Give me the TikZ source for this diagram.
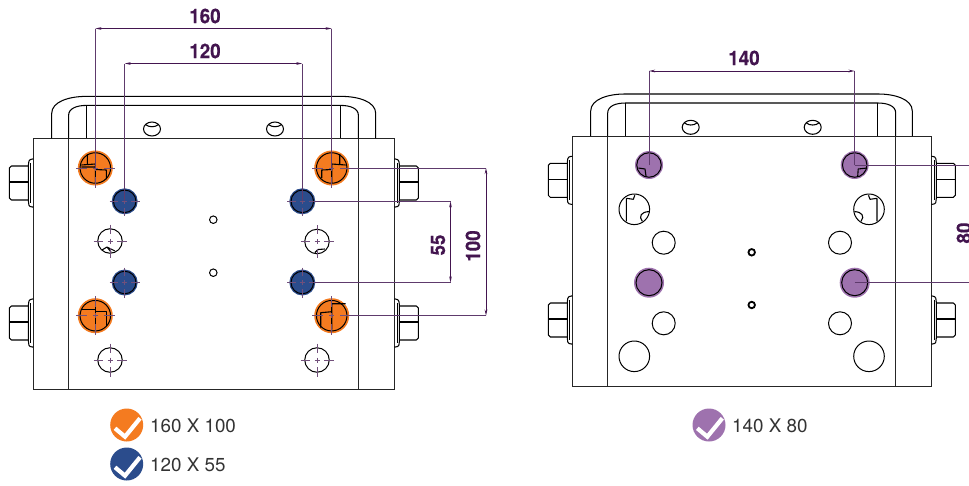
\documentclass[tikz,border=0pt]{standalone}
\usepackage{fontspec}
\usetikzlibrary{arrows.meta,calc}
\setmainfont{TeX Gyre Heros}
\newfontfamily\dimfont[FakeStretch=0.94,FakeBold=0.5]{TeX Gyre Heros}
\definecolor{cOrange}{HTML}{F47B20}
\definecolor{cBlue}{HTML}{2B4C8C}
\definecolor{cPurple}{HTML}{9E72AE}
\definecolor{cDim}{HTML}{43154F}
\definecolor{cExt}{HTML}{5E3A6C}
\definecolor{cInk}{HTML}{000000}
\definecolor{cText}{HTML}{333333}
\tikzset{
  ink/.style={draw=cInk,line width=1.05pt,line join=round},
  plateline/.style={draw=cInk!85!white,line width=0.95pt},
  detail/.style={draw=black,line width=1.1pt,line join=round},
  hole/.style={circle,draw=black,line width=1pt,inner sep=0pt,outer sep=0pt,minimum size=#1},
  halo/.style={circle,fill=#1,inner sep=0pt,outer sep=0pt},
  extline/.style={draw=cExt,line width=0.95pt},
  dimline/.style={draw=cDim,line width=1pt,{Stealth[length=6pt,width=2.6pt]}-{Stealth[length=6pt,width=2.6pt]}},
  hair/.style={draw=cDim!75!white,line width=0.85pt},
  dimtext/.style={font=\dimfont\bfseries\fontsize{20}{20}\selectfont,text=cDim,inner sep=0pt},
  legendtext/.style={font=\fontsize{18.8}{20}\selectfont,text=cText,anchor=west,inner sep=0pt},
  tick/.style={draw=white,line width=4.2pt,line join=miter}
}
% centre lines of a hole: x, y, reach
\newcommand{\hairs}[3]{%
  \draw[hair] ({#1-#3},#2) -- ({#1-0.45*#3},#2) ({#1-2.5},#2) -- ({#1+2.5},#2) ({#1+0.45*#3},#2) -- ({#1+#3},#2)
              (#1,{#2-#3}) -- (#1,{#2-0.45*#3}) (#1,{#2-2.5}) -- (#1,{#2+2.5}) (#1,{#2+0.45*#3}) -- (#1,{#2+#3});}
\newcommand{\boltL}[2]{%
  \begin{scope}[shift={(#1,#2)}]
    \draw[ink] (0,-24) -- (-1,-24) .. controls (-5,-24) and (-5,-20) .. (-5,-18) -- (-5,18) .. controls (-5,21) and (-5,24) .. (-1,24) -- (0,24);
    \draw[ink] (-3,-20) -- (-3,20);
    \draw[ink] (-5,-17) -- (-22,-17) -- (-24,-15) -- (-24,15) -- (-22,17) -- (-5,17);
    \draw[ink] (-24,-1) -- (-5,-1);
  \end{scope}}
\newcommand{\boltR}[2]{%
  \begin{scope}[shift={(#1,#2)},xscale=-1]
    \draw[ink] (0,-24) -- (-1,-24) .. controls (-5,-24) and (-5,-20) .. (-5,-18) -- (-5,18) .. controls (-5,21) and (-5,24) .. (-1,24) -- (0,24);
    \draw[ink] (-3,-20) -- (-3,20);
    \draw[ink] (-5,-17) -- (-22,-17) -- (-24,-15) -- (-24,15) -- (-22,17) -- (-5,17);
    \draw[ink] (-24,-1) -- (-5,-1);
  \end{scope}}
% plate: left, inner left, inner right, right, top, bottom, handle outer left, handle outer right
\newcommand{\plate}[8]{%
  \draw[plateline] (#1,#5) rectangle (#4,#6);
  \draw[plateline] (#2,#5) -- (#2,#6) (#3,#5) -- (#3,#6);
  \draw[ink] (#7,#5) -- (#7,{#5-25}) .. controls (#7,{#5-37}) and ({#7+18},{#5-42}) .. ({#7+34},{#5-42})
     -- ({#8-34},{#5-42}) .. controls ({#8-18},{#5-42}) and (#8,{#5-37}) .. (#8,{#5-25}) -- (#8,#5);
  \draw[ink] (#2,#5) -- (#2,{#5-23}) .. controls (#2,{#5-30}) and ({#2+8},{#5-33}) .. ({#2+18},{#5-33})
     -- ({#3-18},{#5-33}) .. controls ({#3-8},{#5-33}) and (#3,{#5-30}) .. (#3,{#5-23}) -- (#3,#5);
  \draw[ink] ({#2+18},{#5-33}) -- ({#2+18},#5) ({#3-18},{#5-33}) -- ({#3-18},#5);}
\newcommand{\slot}[2]{%
  \begin{scope}[shift={(#1,#2)}]
    \draw[ink] (0,0) ellipse [x radius=8.5,y radius=7];
    \draw[ink] (-6.5,-4.5) .. controls (-3,-1.5) and (3,-1.5) .. (6.5,-4.5);
  \end{scope}}
\begin{document}
\begin{tikzpicture}[x=1pt,y=-1pt]
\useasboundingbox (0,0) rectangle (969,485);
\clip (0,0) rectangle (969,485);

% ---------- left plate ----------
\plate{33.4}{68.6}{358.4}{394.4}{138.4}{389.6}{51.7}{375.7}
\slot{152}{129}
\slot{275}{129}
\boltL{33.4}{183}
\boltL{33.4}{323}
\boltR{394.4}{183}
\boltR{394.4}{323}

\node[halo=cOrange,minimum size=35pt] (ohaloA) at (95.3,168) {};
\node[halo=cOrange,minimum size=35pt] (ohaloB) at (331.7,168) {};
\node[halo=cOrange,minimum size=35pt] (ohaloC) at (95.3,315.7) {};
\node[halo=cOrange,minimum size=35pt] (ohaloD) at (331.7,315.7) {};
\node[hole=30.5pt] (oA) at (95.3,168) {};
\node[hole=30.5pt] (oB) at (331.7,168) {};
\node[hole=30.5pt] (oC) at (95.3,315.7) {};
\node[hole=30.5pt] (oD) at (331.7,315.7) {};
\node[halo=cBlue,minimum size=26pt] (bhaloA) at (124.7,201.3) {};
\node[halo=cBlue,minimum size=26pt] (bhaloB) at (302.3,201.3) {};
\node[halo=cBlue,minimum size=26pt] (bhaloC) at (124.7,282.5) {};
\node[halo=cBlue,minimum size=26pt] (bhaloD) at (302.3,282.5) {};
\node[hole=22.5pt] (bA) at (124.7,201.3) {};
\node[hole=22.5pt] (bB) at (302.3,201.3) {};
\node[hole=22.5pt] (bC) at (124.7,282.5) {};
\node[hole=22.5pt] (bD) at (302.3,282.5) {};
\node[hole=24.5pt] (wA) at (110,241) {};
\node[hole=24.5pt] (wB) at (317,241.5) {};
\node[hole=24.5pt] (wC) at (110,360) {};
\node[hole=24.5pt] (wD) at (317,360) {};
\node[hole=7.5pt] (sA) at (213.3,219.7) {};
\node[hole=7.5pt] (sB) at (213.3,272.7) {};

% cut-outs seen through the holes
\begin{scope}[shift={(95.3,168)}]
  \draw[detail] (-14,-3) -- (0,-4) -- (0,15) (-14,-1) -- (0,-1) (0,1.5) -- (11,2) -- (11,11) (-8,-14) -- (-8,-4);
\end{scope}
\begin{scope}[shift={(331.7,168)},xscale=-1]
  \draw[detail] (-14,-3) -- (0,-4) -- (0,15) (0,1.5) -- (10,2) -- (10,10) (-8,-14) -- (-8,-4);
\end{scope}
\begin{scope}[shift={(95.3,315.7)}]
  \draw[detail] (-14,-6) -- (0,-6) -- (0,-12) (0,-4) -- (11,-4) -- (11,10) (0,-6) -- (0,14);
\end{scope}
\begin{scope}[shift={(331.7,315.7)}]
  \draw[detail] (0,-12) -- (14,-12) (0,-12) -- (0,14) (0,-4) -- (-11,-3) -- (-11,12);
\end{scope}
\begin{scope}[shift={(110,241)}]
  \draw[detail] (-8,9) -- (-3,6) -- (5,10) (-3,6) -- (1,11);
\end{scope}
\begin{scope}[shift={(317,241.5)}]
  \draw[detail] (-2,11) -- (1,8) -- (8,7.5);
\end{scope}

\hairs{95.3}{168}{19.5}
\hairs{331.7}{168}{19.5}
\hairs{95.3}{315.7}{19.5}
\hairs{331.7}{315.7}{19.5}
\hairs{124.7}{201.3}{15}
\hairs{302.3}{201.3}{15}
\hairs{124.7}{282.5}{15}
\hairs{302.3}{282.5}{15}
\hairs{110}{241}{16.5}
\hairs{317}{241.5}{16.5}
\hairs{110}{360}{16.5}
\hairs{317}{360}{16.5}

% dimensions, left plate
\coordinate (t160a) at (95.3,28.5);
\coordinate (t160b) at (331.7,28.5);
\coordinate (t120a) at (124.7,63.5);
\coordinate (t120b) at (302.3,63.5);
\coordinate (r100a) at (486,168);
\coordinate (r100b) at (486,315.7);
\coordinate (r55a) at (450.5,201.3);
\coordinate (r55b) at (450.5,282.5);
\draw[extline] (oA.center) -- (t160a);
\draw[extline] (oB.center) -- (t160b);
\draw[dimline] (t160a) -- (t160b);
\draw[extline] (bA.center) -- (t120a);
\draw[extline] (bB.center) -- (t120b);
\draw[dimline] (t120a) -- (t120b);
\draw[extline] (ohaloB.east) -- (r100a);
\draw[extline] (ohaloD.east) -- (r100b);
\draw[dimline] (r100a) -- (r100b);
\draw[extline] (bhaloB.east) -- (r55a);
\draw[extline] (bhaloD.east) -- (r55b);
\draw[dimline] (r55a) -- (r55b);
\node[dimtext] (l160) at (205,16) {160};
\node[dimtext] (l120) at (205,51) {120};
\node[dimtext,rotate=90] (l100) at (473,246) {100};
\node[dimtext,rotate=90] (l55) at (438,245) {55};

% ---------- right plate ----------
\plate{572.3}{607.7}{895.7}{931.3}{136}{386}{590.7}{912.3}
\slot{690.7}{127.3}
\slot{812.7}{127.3}
\boltL{572.3}{180.3}
\boltL{572.3}{320}
\boltR{931.3}{180.3}
\boltR{931.3}{320}

\node[halo=cPurple,minimum size=28pt] (phaloA) at (649,165) {};
\node[halo=cPurple,minimum size=28pt] (phaloB) at (854.7,165) {};
\node[halo=cPurple,minimum size=30pt] (phaloC) at (649,282.7) {};
\node[halo=cPurple,minimum size=30pt] (phaloD) at (854.7,282.7) {};
\node[hole=24.5pt] (pA) at (649,165) {};
\node[hole=24.5pt] (pB) at (854.7,165) {};
\node[hole=26pt] (pC) at (649,282.7) {};
\node[hole=26pt] (pD) at (854.7,282.7) {};
\node[hole=30.6pt] (gA) at (634.3,209.3) {};
\node[hole=30.6pt] (gB) at (869,209.3) {};
\node[hole=30.6pt] (gC) at (634.3,356.3) {};
\node[hole=30.6pt] (gD) at (869,356.3) {};
\node[hole=23pt] (mA) at (663.7,242.7) {};
\node[hole=23pt] (mB) at (840,242.7) {};
\node[hole=23pt] (mC) at (663.7,323.3) {};
\node[hole=23pt] (mD) at (840,323.3) {};
\node[circle,draw=black,line width=1.8pt,inner sep=0pt,outer sep=0pt,minimum size=6.5pt] (kA) at (751.7,252.3) {};
\node[circle,draw=black,line width=1.8pt,inner sep=0pt,outer sep=0pt,minimum size=6.5pt] (kB) at (751.7,305) {};

\begin{scope}[shift={(649,165)}]
  \draw[detail] (-10.5,3) -- (-4,4) -- (-3,11);
\end{scope}
\begin{scope}[shift={(854.7,165)}]
  \draw[detail] (12.5,3) -- (3.5,4) -- (3,11.5);
\end{scope}
\begin{scope}[shift={(634.3,209.3)}]
  \draw[detail] (-8,-11) -- (-8,12) (-8,-11) -- (-1,-10) -- (0.5,-14);
  \draw[detail] (14.7,2.3) .. controls (7,2.5) and (4,7) .. (8,12);
\end{scope}
\begin{scope}[shift={(869,209.3)},xscale=-1]
  \draw[detail] (-8,-11) -- (-8,12) (-8,-11) -- (-1,-10) -- (0.5,-14);
  \draw[detail] (14.7,2.3) .. controls (7,2.5) and (4,7) .. (8,12);
\end{scope}

% dimensions, right plate
\coordinate (t140a) at (649,71);
\coordinate (t140b) at (854.7,71);
\coordinate (r80a) at (969,165);
\coordinate (r80b) at (969,282.7);
\draw[extline] (pA.center) -- (t140a);
\draw[extline] (pB.center) -- (t140b);
\draw[dimline] (t140a) -- (t140b);
\draw[extline] (pB.center) -- (r80a);
\draw[extline] (pD.center) -- (r80b);
\node[dimtext] (l140) at (744,58) {140};
\node[dimtext,rotate=90] (l80) at (964,233) {80};

% ---------- legend ----------
\node[halo=cOrange,minimum size=33pt] (legA) at (126.7,425) {};
\node[halo=cBlue,minimum size=33pt] (legB) at (126.7,464) {};
\node[halo=cPurple,minimum size=33pt] (legC) at (709,425) {};
\draw[tick] ($(legA.center)+(-11.7,3.3)$) -- ($(legA.center)+(-1.7,11.7)$) -- ($(legA.center)+(13.3,-6.7)$);
\draw[tick] ($(legB.center)+(-11.7,3.3)$) -- ($(legB.center)+(-1.7,11.7)$) -- ($(legB.center)+(13.3,-6.7)$);
\draw[tick] ($(legC.center)+(-11.7,3.3)$) -- ($(legC.center)+(-1.7,11.7)$) -- ($(legC.center)+(13.3,-6.7)$);
\node[legendtext] (tA) at (150,425.5) {160 X 100};
\node[legendtext] (tB) at (150,464.5) {120 X 55};
\node[legendtext] (tC) at (732,425.5) {140 X 80};
\end{tikzpicture}
\end{document}
